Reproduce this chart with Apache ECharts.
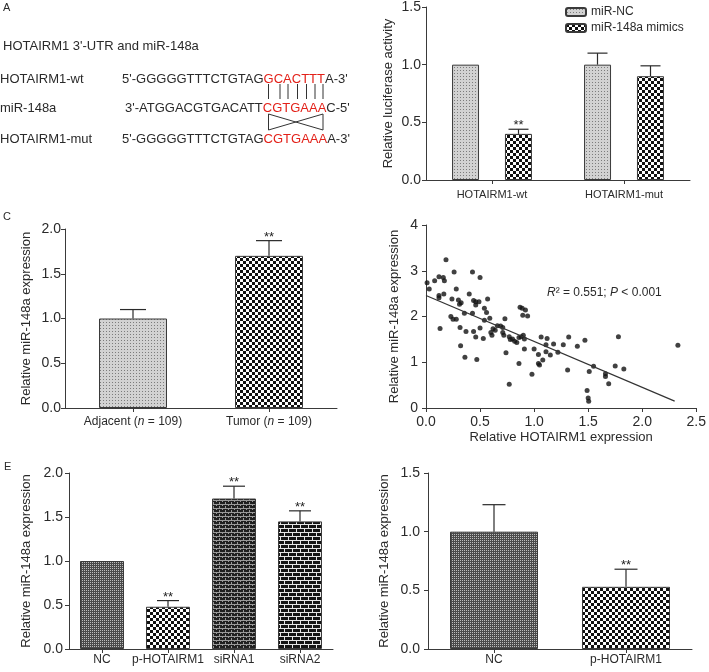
<!DOCTYPE html>
<html><head><meta charset="utf-8">
<script src="https://cdn.jsdelivr.net/npm/echarts@6/dist/echarts.min.js"></script>
<style>html,body{margin:0;padding:0;background:#fff}#c{width:709px;height:672px}</style>
</head><body><div id="c"></div>
<script>
// ---------------- DATA ----------------
// Panel B: luciferase assay
const bCategories = ['HOTAIRM1-wt', 'HOTAIRM1-mut'];
const bSeriesNames = ['miR-NC', 'miR-148a mimics'];
const bNC = [1.0, 1.0];
const bNCErr = [0, 0.10];
const bNCSig = [0, 0];
const bMimics = [0.40, 0.90];
const bMimicsErr = [0.04, 0.09];
const bMimicsSig = [1, 0];

// Panel C: tissue expression
const cCategories = ['Adjacent (n = 109)', 'Tumor (n = 109)'];
const cValues = [1.0, 1.70];
const cErr = [0.10, 0.17];
const cSig = [0, 1];

// Panel D: correlation scatter
const dHotairm1 = [
  0.01, 0.03, 0.08, 0.12, 0.185, 0.16, 0.17, 0.12, 0.12, 0.165,
  0.13, 0.26, 0.28, 0.24, 0.23, 0.25, 0.28, 0.30, 0.31, 0.325,
  0.315, 0.32, 0.355, 0.37, 0.36, 0.40, 0.43, 0.44, 0.43, 0.46,
  0.46, 0.49, 0.50, 0.44, 0.46, 0.47, 0.50, 0.54, 0.53, 0.54,
  0.56, 0.57, 0.59, 0.60, 0.61, 0.62, 0.64, 0.66, 0.69, 0.71,
  0.71, 0.72, 0.73, 0.74, 0.77, 0.77, 0.78, 0.80, 0.82, 0.84,
  0.86, 0.86, 0.87, 0.89, 0.895, 0.92, 0.94, 0.88, 0.90, 0.91,
  0.91, 0.98, 1.00, 1.04, 1.04, 1.05, 1.065, 1.08, 1.11, 1.12,
  1.11, 1.15, 1.18, 1.22, 1.27, 1.32, 1.31, 1.40, 1.47, 1.49,
  1.50, 1.505, 1.51, 1.55, 1.66, 1.66, 1.69, 1.75, 1.78, 1.83,
  2.33
];
const dMir148a = [
  2.74, 2.60, 2.78, 2.87, 3.24, 2.85, 2.78, 2.46, 2.41, 2.49,
  1.74, 2.97, 2.60, 2.38, 2.00, 1.94, 1.94, 2.36, 2.27, 2.30,
  1.76, 1.36, 2.07, 1.67, 1.11, 2.49, 2.97, 2.35, 2.07, 2.32,
  2.25, 2.32, 2.85, 1.67, 1.55, 1.06, 1.75, 1.92, 1.52, 2.18,
  2.09, 2.38, 1.96, 1.65, 1.59, 1.73, 1.70, 1.80, 1.79, 1.76,
  1.65, 1.59, 1.95, 1.21, 1.56, 0.52, 1.50, 1.51, 1.46, 1.43,
  1.54, 0.97, 2.20, 2.18, 2.03, 2.14, 2.01, 1.56, 1.59, 1.51,
  1.29, 0.74, 1.29, 1.17, 0.97, 0.94, 1.55, 1.05, 1.38, 1.52,
  1.23, 1.16, 1.40, 1.22, 1.38, 1.55, 0.83, 1.35, 1.48, 0.38,
  0.22, 0.15, 0.80, 0.91, 0.75, 0.69, 0.53, 0.92, 1.56, 0.85,
  1.37
];
const dFitX = [0, 2.30];
const dFitY = [2.46, 0.15];

// Panel E: overexpression / knockdown
const eCategories = ['NC', 'p-HOTAIRM1', 'siRNA1', 'siRNA2'];
const eValues = [1.0, 0.48, 1.71, 1.45];
const eErr = [0, 0.07, 0.14, 0.12];
const eSig = [0, 1, 1, 1];

// Panel F
const fCategories = ['NC', 'p-HOTAIRM1'];
const fValues = [1.0, 0.53];
const fErr = [0.23, 0.15];
const fSig = [0, 1];

// ---------------- STYLES ----------------
const FONT = '"Liberation Sans", Arial, Helvetica, sans-serif';
const AX = '#3a3a3a', TXT = '#2a2a2a', BORDER = '#3a3a3a';

function makePattern(w, h, bg, fg, cells) {
  const c = document.createElement('canvas');
  c.width = w; c.height = h;
  const g = c.getContext('2d');
  g.fillStyle = bg; g.fillRect(0, 0, w, h);
  g.fillStyle = fg;
  cells.forEach(r => g.fillRect(r[0], r[1], r[2] || 1, r[3] || 1));
  return { image: c, repeat: 'repeat' };
}
const pLight = makePattern(3, 3, '#d2d2d2', '#7c7c7c', [[1, 1]]);
const pChecker = makePattern(6, 6, '#ffffff', '#111111', [[0,0,3,3],[3,3,3,3]]);
const pDark = makePattern(2, 2, '#4a4a4a', '#bdbdbd', [[0,0]]);
const pBrick1 = makePattern(6, 4, '#202020', '#9a9a9a', [[0,0,6,1],[0,1],[3,2,1,1],[3,3]]);
const pBrick2 = makePattern(8, 8, '#141414', '#e6e6e6', [[0,0,8,1],[0,1,1,3],[0,4,8,1],[4,5,1,3]]);

const cFills = [pLight, pChecker];
const eFills = [pDark, pChecker, pBrick1, pBrick2];
const fFills = [pDark, pChecker];

const axisLine = { show: true, lineStyle: { color: AX, width: 1 } };
function tick(len) { return { show: true, length: len, lineStyle: { color: AX, width: 1 } }; }
const fix1 = v => v.toFixed(1);

function catAxis(gi, cats, fontSize, margin, labelExtra) {
  return {
    type: 'category', gridIndex: gi, data: cats,
    axisLine: axisLine, axisTick: Object.assign(tick(4), { alignWithLabel: true }),
    axisLabel: Object.assign({ color: TXT, fontSize: fontSize, margin: margin, fontFamily: FONT, interval: 0, hideOverlap: false }, labelExtra || {}),
    splitLine: { show: false }
  };
}
function valAxis(gi, min, max, interval, name, nameGap, margin, fmt) {
  return {
    type: 'value', gridIndex: gi, min: min, max: max, interval: interval,
    name: name, nameLocation: 'middle', nameGap: nameGap,
    nameTextStyle: { color: TXT, fontSize: 13, fontFamily: FONT },
    axisLine: axisLine, axisTick: tick(4),
    axisLabel: { color: TXT, fontSize: 14, margin: margin, formatter: fmt || fix1, fontFamily: FONT },
    splitLine: { show: false }
  };
}

function errorBars(ai, values, errs, sigs, offsetFrac, capW) {
  return {
    type: 'custom', xAxisIndex: ai, yAxisIndex: ai, z: 5, silent: true,
    data: values.map((v, i) => [i, v, v + errs[i], sigs[i]]),
    encode: { x: 0, y: [1, 2] },
    renderItem: function (params, api) {
      const i = api.value(0);
      const base = api.coord([i, api.value(1)]);
      const top = api.coord([i, api.value(2)]);
      const band = api.size([1, 0])[0];
      const x = base[0] + offsetFrac * band;
      const children = [];
      const st = { stroke: '#2a2a2a', lineWidth: 1.2 };
      if (api.value(2) > api.value(1)) {
        children.push({ type: 'line', shape: { x1: x, y1: base[1], x2: x, y2: top[1] }, style: st });
        children.push({ type: 'line', shape: { x1: x - capW / 2, y1: top[1], x2: x + capW / 2, y2: top[1] }, style: st });
      }
      if (api.value(3)) {
        children.push({ type: 'text', style: { text: '**', x: x, y: top[1] + 3, align: 'center', verticalAlign: 'bottom', fontSize: 13, fontFamily: FONT, fill: '#222' } });
      }
      return { type: 'group', children: children };
    }
  };
}

function txt(text, x, y, size, opts) {
  return Object.assign({
    type: 'text', silent: true,
    style: Object.assign({ text: text, x: x, y: y, fontSize: size, fontFamily: FONT, fill: TXT, verticalAlign: 'middle', align: 'left' }, (opts && opts.style) || {})
  }, (opts && opts.el) || {});
}
function ln(x1, y1, x2, y2) {
  return { type: 'line', silent: true, shape: { x1: x1, y1: y1, x2: x2, y2: y2 }, style: { stroke: '#333', lineWidth: 1 } };
}

const RED = { fill: '#e32119' };
const graphics = [
  txt('A', 3, 8, 11),
  txt("HOTAIRM1 3'-UTR and miR-148a", 3, 46, 13),
  txt('HOTAIRM1-wt', 0, 79, 13),
  txt('miR-148a', 0, 108, 13),
  txt('HOTAIRM1-mut', 0, 139, 13),
  txt("5'-GGGGGTTTCTGTAG{r|GCACTTT}A-3'", 122, 79, 13, { style: { rich: { r: RED } } }),
  txt("3'-ATGGACGTGACATT{r|CGTGAAA}C-5'", 125, 108, 13, { style: { rich: { r: RED } } }),
  txt("5'-GGGGGTTTCTGTAG{r|CGTGAAA}A-3'", 122, 139, 13, { style: { rich: { r: RED } } }),
  txt('B', 386, 6, 11, { el: { rotation: Math.PI / 2 }, style: { align: 'center' } }),
  txt('C', 3, 217, 11),
  txt('D', 388, 216, 11, { el: { rotation: Math.PI / 2 }, style: { align: 'center' } }),
  txt('E', 4, 467, 11),
  txt('F', 376, 463, 11, { el: { rotation: Math.PI / 2 }, style: { align: 'center' } }),
  txt('{i|R}² = 0.551; {i|P} < 0.001', 547, 293, 12, { style: { rich: { i: { fontStyle: 'italic', fontSize: 12, fontFamily: FONT, fill: TXT } } } })
];
[268.5, 280, 288, 297.5, 306.5, 315, 323].forEach(x => graphics.push(ln(x, 84, x, 99)));
graphics.push(ln(268.5, 114, 268.5, 130), ln(323, 114, 323, 130), ln(268.5, 114, 323, 130), ln(323, 114, 268.5, 130));

const chart = echarts.init(document.getElementById('c'), null, { renderer: 'canvas' });
chart.setOption({
  animation: false,
  backgroundColor: '#ffffff',
  textStyle: { fontFamily: FONT },
  legend: {
    data: bSeriesNames, left: 560, top: 0, orient: 'vertical',
    itemWidth: 20, itemHeight: 8, itemGap: 2,
    textStyle: { fontSize: 12, color: TXT, lineHeight: 14, fontFamily: FONT }
  },
  graphic: graphics,
  grid: [
    { left: 426, top: 4, width: 264, height: 176 },
    { left: 65, top: 229, width: 272, height: 179 },
    { left: 426, top: 225, width: 275, height: 183 },
    { left: 69, top: 473, width: 264, height: 176 },
    { left: 428, top: 473, width: 264, height: 176 }
  ],
  xAxis: [
    catAxis(0, bCategories, 11, 9),
    catAxis(1, cCategories, 12, 8, {
      formatter: v => v.replace('(n', '({i|n}'),
      rich: { i: { fontStyle: 'italic', fontSize: 12, color: TXT, fontFamily: FONT } } }),
    { type: 'value', gridIndex: 2, min: 0, max: 2.5, interval: 0.5,
      name: 'Relative HOTAIRM1 expression', nameLocation: 'middle', nameGap: 23,
      nameTextStyle: { color: TXT, fontSize: 13, fontFamily: FONT },
      axisLine: axisLine, axisTick: tick(4),
      axisLabel: { color: TXT, fontSize: 14, margin: 7, formatter: fix1, fontFamily: FONT },
      splitLine: { show: false } },
    catAxis(3, eCategories, 12, 5),
    catAxis(4, fCategories, 12, 5)
  ],
  yAxis: [
    valAxis(0, 0, 1.5, 0.5, 'Relative luciferase activity', 31, 5),
    valAxis(1, 0, 2, 0.5, 'Relative miR-148a expression', 32, 4),
    valAxis(2, 0, 4, 1, 'Relative miR-148a expression', 25, 8, v => String(v)),
    valAxis(3, 0, 2, 0.5, 'Relative miR-148a expression', 36, 6),
    valAxis(4, 0, 1.5, 0.5, 'Relative miR-148a expression', 37, 8)
  ],
  series: [
    { type: 'bar', name: bSeriesNames[0], xAxisIndex: 0, yAxisIndex: 0, data: bNC,
      barWidth: 27, barGap: '96%', itemStyle: { color: pLight, borderColor: BORDER, borderWidth: 1 } },
    { type: 'bar', name: bSeriesNames[1], xAxisIndex: 0, yAxisIndex: 0, data: bMimics,
      barWidth: 27, barGap: '96%', itemStyle: { color: pChecker, borderColor: BORDER, borderWidth: 1 } },
    errorBars(0, bNC, bNCErr, bNCSig, -0.2008, 20),
    errorBars(0, bMimics, bMimicsErr, bMimicsSig, 0.2008, 20),

    { type: 'bar', xAxisIndex: 1, yAxisIndex: 1, barWidth: 68,
      data: cValues.map((v, i) => ({ value: v, itemStyle: { color: cFills[i], borderColor: BORDER, borderWidth: 1 } })) },
    errorBars(1, cValues, cErr, cSig, 0, 26),

    { type: 'scatter', xAxisIndex: 2, yAxisIndex: 2, symbolSize: 5,
      itemStyle: { color: '#111' },
      data: dHotairm1.map((x, i) => [x, dMir148a[i]]) },
    { type: 'line', xAxisIndex: 2, yAxisIndex: 2, showSymbol: false, symbol: 'none',
      lineStyle: { color: '#333', width: 1.2 },
      data: dFitX.map((x, i) => [x, dFitY[i]]) },

    { type: 'bar', xAxisIndex: 3, yAxisIndex: 3, barWidth: 44,
      data: eValues.map((v, i) => ({ value: v, itemStyle: { color: eFills[i], borderColor: BORDER, borderWidth: 1 } })) },
    errorBars(3, eValues, eErr, eSig, 0, 22),

    { type: 'bar', xAxisIndex: 4, yAxisIndex: 4, barWidth: 88,
      data: fValues.map((v, i) => ({ value: v, itemStyle: { color: fFills[i], borderColor: BORDER, borderWidth: 1 } })) },
    errorBars(4, fValues, fErr, fSig, 0, 23)
  ]
});
</script></body></html>
